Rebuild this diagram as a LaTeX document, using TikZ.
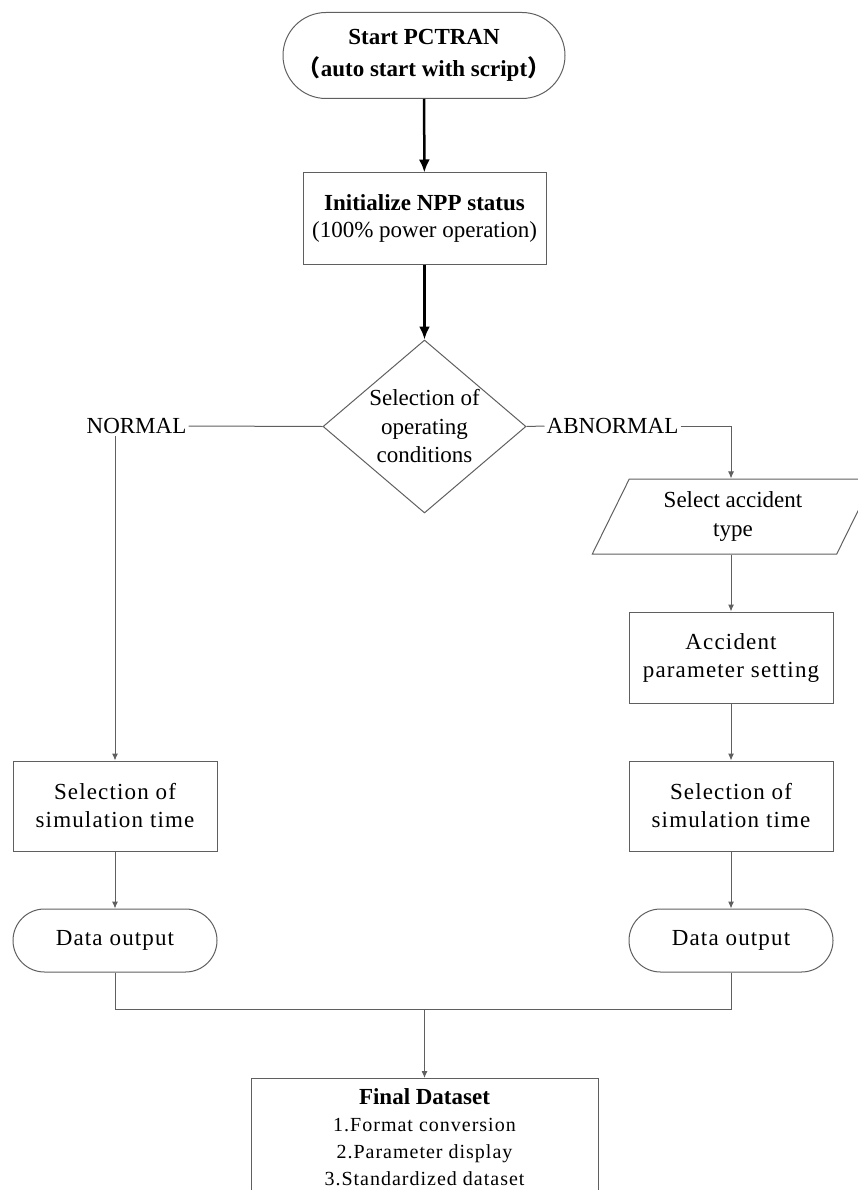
\documentclass[tikz,border=0pt]{standalone}
\usepackage{fontspec}
\setmainfont{Liberation Serif}
\newfontfamily\spaced[LetterSpace=5]{Liberation Serif}
\newfontfamily\cjk{Noto Sans CJK SC}
\usetikzlibrary{shapes.geometric,arrows.meta}
\definecolor{linegray}{RGB}{95,95,95}
\begin{document}
\begin{tikzpicture}[x=1pt,y=-1pt,
  txt/.style={font=\fontsize{23}{28}\selectfont, align=center, inner sep=2pt},
  boxnode/.style={draw=linegray, line width=1pt, rectangle, minimum width=204pt, minimum height=90pt, inner sep=0pt, align=center, font=\spaced\fontsize{23}{28}\selectfont},
  termnode/.style={draw=linegray, line width=1pt, rectangle, rounded corners=31.5pt, minimum width=204pt, minimum height=63pt, inner sep=0pt, align=center, font=\spaced\fontsize{23}{28}\selectfont},
  conn/.style={draw=linegray, line width=1pt},
  arr/.style={conn, -{Latex[length=7pt,width=6pt]}},
  thickarr/.style={draw=black, line width=2.5pt, -{Latex[length=13pt,width=11pt]}}
]
\useasboundingbox (0,0) rectangle (857,1190);

\node[draw=linegray, line width=1pt, rectangle, rounded corners=43pt, minimum width=282pt, minimum height=86pt, inner sep=0pt, align=center, font=\bfseries\fontsize{23}{32}\selectfont] (start) at (424,55.5)
  {Start PCTRAN\\{\cjk （}auto start with script{\cjk ）}};

\node[draw=linegray, line width=1pt, rectangle, minimum width=243pt, minimum height=91pt, inner sep=0pt, align=center, font=\fontsize{23}{27}\selectfont] (init) at (424.5,218.5)
  {\textbf{Initialize NPP status}\\(100\% power operation)};

\node[draw=linegray, line width=1pt, diamond, minimum width=203pt, minimum height=173pt, inner sep=0pt] (dec) at (424.5,426.5) {};
\node[txt, font=\fontsize{23}{28.5}\selectfont] (dectxt) at (dec.center) {Selection of\\operating\\conditions};

\node[txt] (normal) at (136.5,426) {NORMAL};
\node[txt] (abn) at (612.5,426) {ABNORMAL};

\node[draw=linegray, line width=1pt, trapezium, trapezium left angle=63.7, trapezium right angle=116.3, trapezium stretches=true, minimum width=282pt, minimum height=75pt, inner sep=0pt, align=center, font=\fontsize{23}{29}\selectfont] (par) at (733,516.5)
  {Select accident\\type};

\node[boxnode, minimum height=91pt] (acc) at (731,657.5) {Accident\\parameter setting};
\node[boxnode] (rsel) at (731,806) {Selection of\\simulation time};
\node[termnode] (rdata) at (731,940.5) {Data output};

\node[boxnode] (lsel) at (115,806) {Selection of\\simulation time};
\node[termnode] (ldata) at (115,940.5) {Data output};

\node[draw=linegray, line width=1pt, rectangle, minimum width=347pt, minimum height=118pt, inner sep=0pt, anchor=north, align=center, font=\spaced\fontsize{20}{27}\selectfont] (final) at (424.5,1078)
  {{\normalfont\bfseries\fontsize{23}{27}\selectfont Final Dataset}\\1.Format conversion\\2.Parameter display\\3.Standardized dataset};

\coordinate (join) at (424.5,1009);

\draw[thickarr] (start) -- (init);
\draw[thickarr] (init) -- (dec.north);
\draw[conn] (dec.west) -- (normal.east);
\draw[conn] (dec.east) -- (abn.west);
\draw[arr] (abn.east) -| (acc.north |- par.north);
\draw[arr] (normal.south -| lsel.north) -- (lsel.north);
\draw[arr] (acc.north |- par.south) -- (acc.north);
\draw[arr] (acc) -- (rsel);
\draw[arr] (rsel) -- (rdata);
\draw[arr] (lsel) -- (ldata);
\draw[conn] (ldata.south) |- (rdata.south |- join) -- (rdata.south);
\draw[arr] (join) -- (final.north);
\end{tikzpicture}
\end{document}
